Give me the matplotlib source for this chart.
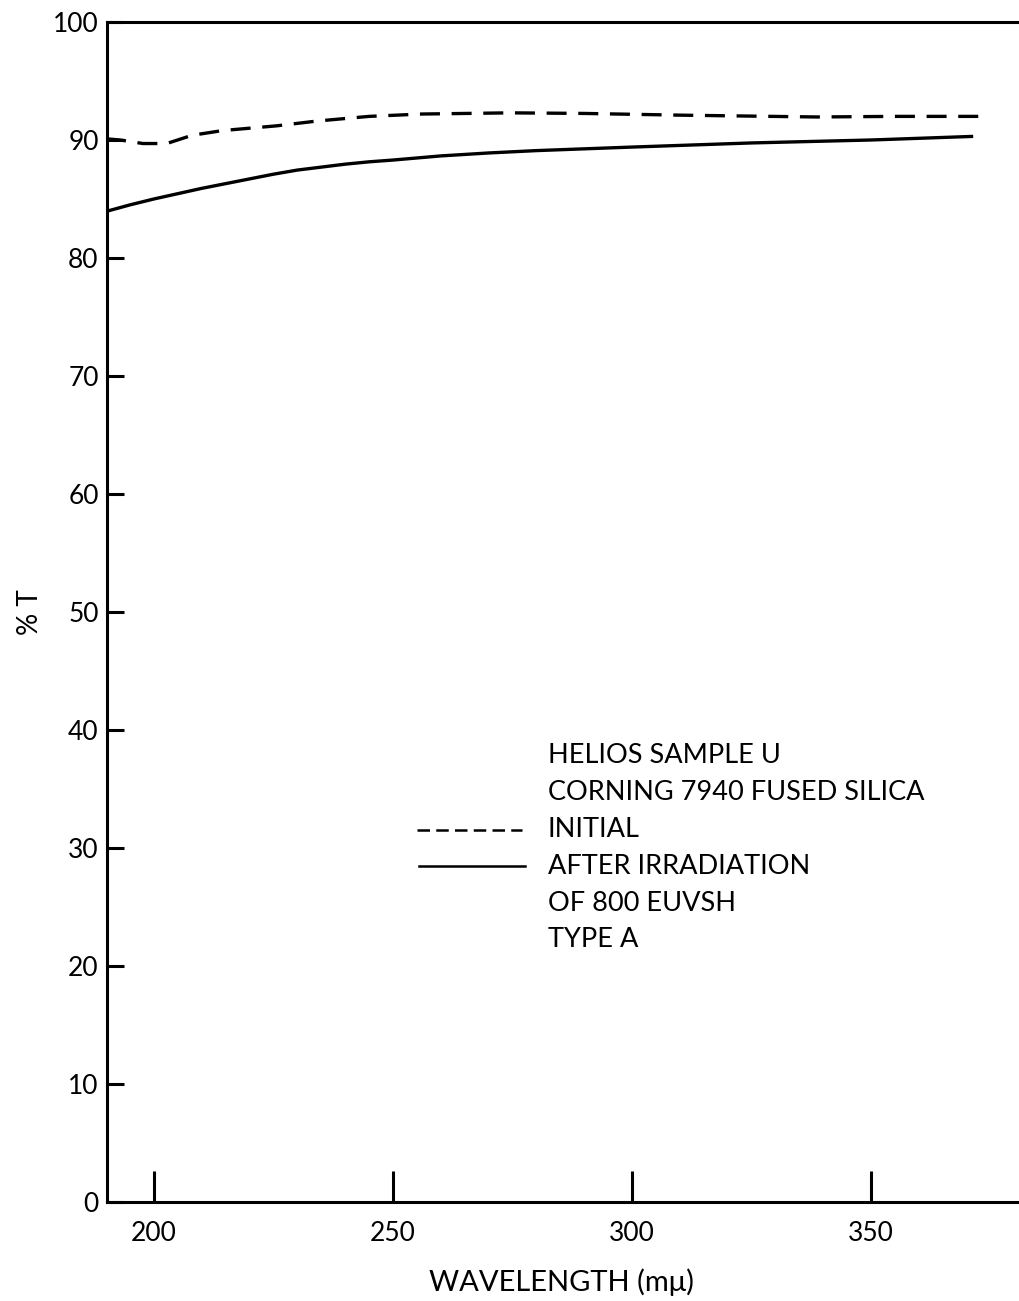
import matplotlib
matplotlib.use('Agg')
import matplotlib.pyplot as plt

plt.rcParams['font.family'] = ['Lato', 'DejaVu Sans']

# 초기 투과율 (점선)
wl_initial = [190, 193, 197.7, 202.7, 208, 214.4, 225.7, 234, 245, 256, 274.5, 290, 310.7, 338.7, 355, 374.5]
t_initial = [90.1, 90.0, 89.7, 89.7, 90.4, 90.8, 91.2, 91.6, 92.0, 92.2, 92.3, 92.25, 92.1, 91.95, 92.0, 92.0]

# 조사 후 투과율 (실선)
wl_after = [190.5, 195, 200, 205, 210, 215, 220, 225, 230, 235, 240, 245, 250,
            260, 270, 280, 290, 300, 325, 350, 371]
t_after = [84.0, 84.5, 85.0, 85.45, 85.9, 86.3, 86.7, 87.1, 87.45, 87.7, 87.95, 88.15, 88.3,
           88.65, 88.9, 89.1, 89.25, 89.4, 89.75, 90.0, 90.3]

x_ticks = [200, 250, 300, 350]
y_ticks = [0, 10, 20, 30, 40, 50, 60, 70, 80, 90, 100]

legend_lines = ['HELIOS SAMPLE U', 'CORNING 7940 FUSED SILICA', 'INITIAL',
                'AFTER IRRADIATION', 'OF 800 EUVSH', 'TYPE A']

fig = plt.figure(figsize=(10.19, 13.01), dpi=100)
ax = fig.add_axes([0.105, 0.0761, 0.893, 0.907])

ax.plot(wl_initial, t_initial, color='black', lw=2.4, dashes=(6, 3.5))
ax.plot(wl_after, t_after, color='black', lw=2.4)

ax.set_xlim(190.2, 380.5)
ax.set_ylim(0, 100)
ax.set_xticks(x_ticks)
ax.set_yticks(y_ticks)

for s in ['left', 'bottom', 'top']:
    ax.spines[s].set_linewidth(2.2)
ax.spines['right'].set_visible(False)

ax.tick_params(axis='x', direction='in', length=22, width=2.2, pad=14, labelsize=19)
ax.tick_params(axis='y', direction='in', length=12, width=2.2, pad=6, labelsize=19)

ax.set_xlabel('WAVELENGTH (mμ)', fontsize=21, va='center')
ax.xaxis.set_label_coords(0.5, -(1282 - 1202) / 1180)
ax.set_ylabel('% T', fontsize=20, va='center')
ax.yaxis.set_label_coords(-(107 - 30) / 910, 0.5)

# 범례 텍스트
x0 = 0.4846
y0 = (1301 - 756 - 99) / (1202 - 22)
dy = 36.8 / 1180
for i, txt in enumerate(legend_lines):
    ax.text(x0, y0 - i * dy, txt, transform=ax.transAxes, fontsize=19.5,
            va='center', ha='left')

ax.plot([0.341, 0.4560], [y0 - 2 * dy, y0 - 2 * dy], transform=ax.transAxes,
        color='black', lw=1.8, dashes=(5, 2.5))
ax.plot([0.343, 0.4590], [y0 - 3 * dy, y0 - 3 * dy], transform=ax.transAxes,
        color='black', lw=1.8)

fig.savefig('out.png', dpi=100)
